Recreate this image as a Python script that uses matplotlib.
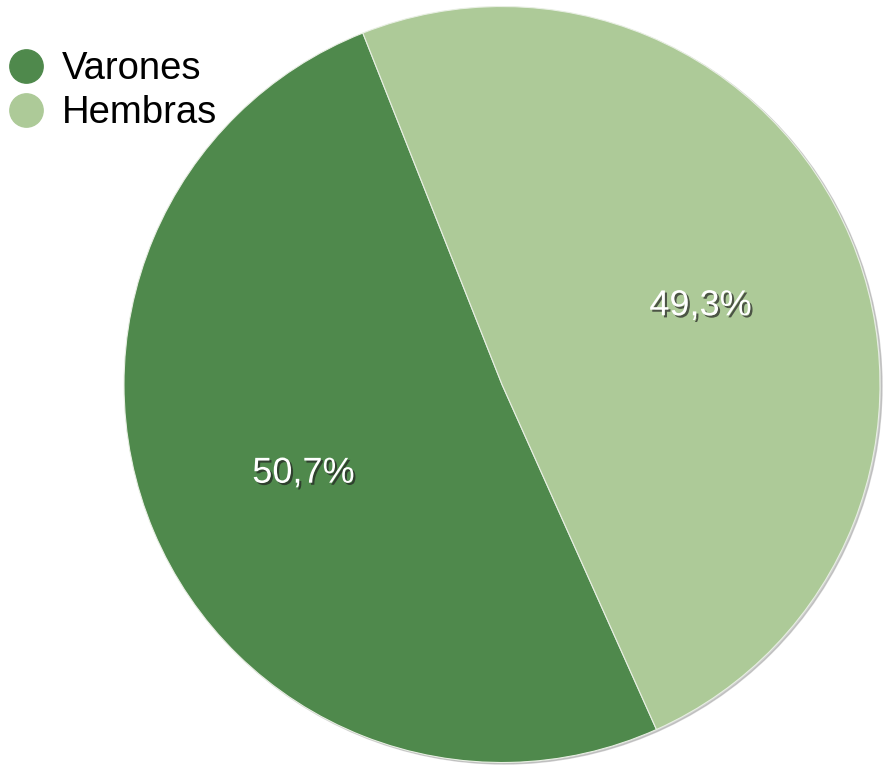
import matplotlib.pyplot as plt
import matplotlib.patheffects as pe
from matplotlib.lines import Line2D

# data
labels = ['Varones', 'Hembras']
values = [50.7, 49.3]
colors = ['#4f894c', '#adca98']

plt.rcParams['font.family'] = ['Liberation Sans', 'DejaVu Sans']

fig = plt.figure(figsize=(8.87, 7.67), dpi=100)
ax = fig.add_axes([0, 0, 1, 1])

# faint shadow ring behind the pie
shadow = plt.Circle((504, 381), 378, color='#a0a0a0', alpha=0.5, zorder=0)
ax.add_patch(shadow)

wedges, texts, autotexts = ax.pie(
    values, colors=colors, startangle=111.6, counterclock=True,
    center=(502, 382.5), radius=378, frame=True,
    autopct=lambda p: ('%.1f%%' % p).replace('.', ','), pctdistance=0.57,
    wedgeprops=dict(linewidth=0.8, edgecolor='#e8efe3'),
    textprops=dict(color='white', fontsize=26))
ax.set_xlim(0, 887)
ax.set_ylim(0, 767)
ax.set_aspect('equal')
ax.axis('off')
for t in autotexts:
    x, y = t.get_position()
    t.set_position((x, y - 5))
    t.set_path_effects([pe.withSimplePatchShadow(offset=(1.5, -1.5), shadow_rgbFace='#222222', alpha=0.7)])

handles = [Line2D([], [], marker='o', linestyle='', markersize=24,
                  markerfacecolor=c, markeredgecolor=c) for c in colors]
leg = ax.legend(handles, labels, loc='upper left', bbox_to_anchor=(-0.016, 0.953),
                frameon=False, fontsize=27.5, handletextpad=0.3, labelspacing=0.2,
                handlelength=1.3, borderaxespad=0)

fig.savefig('out.png', dpi=100)
